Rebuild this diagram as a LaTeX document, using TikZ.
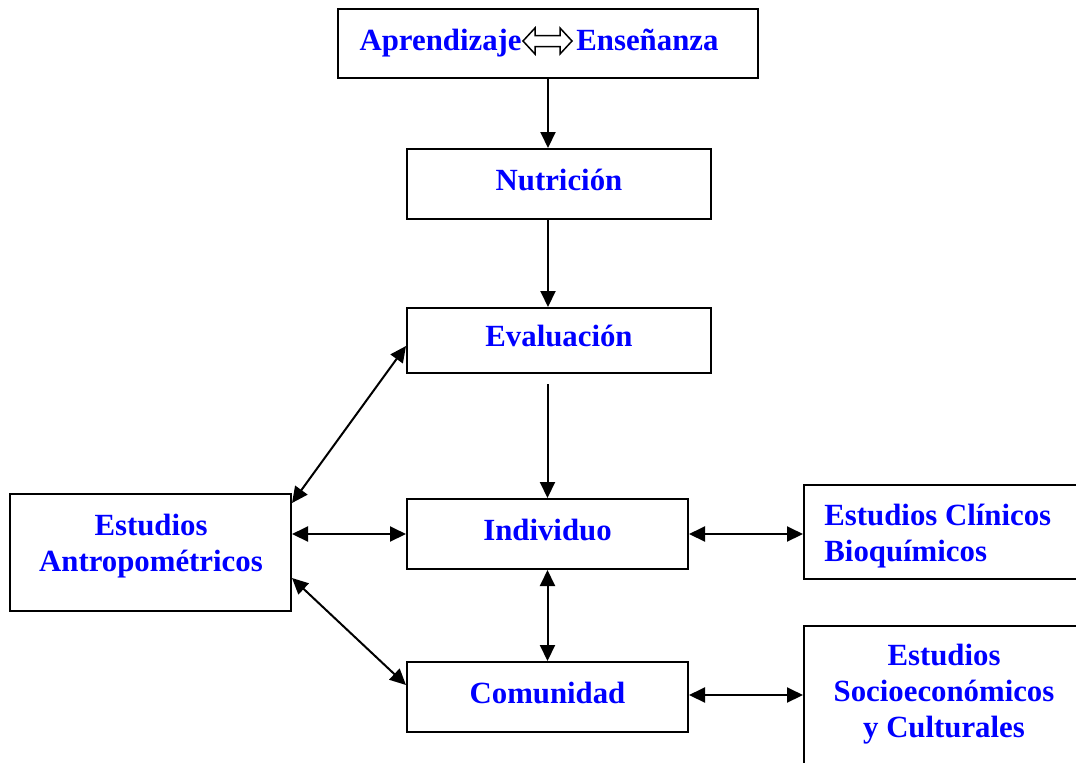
\documentclass[tikz,border=0pt]{standalone}
\usepackage{fontspec}
\setmainfont{Liberation Serif}
\usetikzlibrary{arrows.meta}
\definecolor{qqqqff}{rgb}{0,0,1}
\tikzset{
  caja/.style={draw=black,line width=1pt,rectangle,inner sep=0pt,text=qqqqff,
    font=\bfseries\fontsize{15.4}{18}\selectfont,align=center,text height=9pt,text depth=3pt},
  txt/.style={inner sep=0pt,text=qqqqff,font=\bfseries\fontsize{15.4}{18}\selectfont},
  flecha/.style={line width=1pt,-{Triangle[length=8pt,width=7.5pt]}},
  dflecha/.style={line width=1pt,{Triangle[length=8pt,width=7.5pt]}-{Triangle[length=8pt,width=7.5pt]}}
}
\begin{document}
\begin{tikzpicture}[line join=miter,x=0.5pt,y=-0.5pt]
      \useasboundingbox (0,0) rectangle (1076,762);
      \node[caja,minimum width=210pt,minimum height=34.5pt] (ense) at (548,43.5) {};
      \node[txt,anchor=base east] (apr) at (522,50) {Aprendizaje};
      \node[txt,anchor=base west] (ens) at (576,50) {Enseñanza};
      \draw[line width=0.75pt,fill=white] (523,41) -- (535,28) -- (535,35.5) -- (560,35.5) -- (560,28) -- (572,41)
        -- (560,54) -- (560,46.5) -- (535,46.5) -- (535,54) -- cycle;
      \node[caja,minimum width=152pt,minimum height=35pt] (nutri) at (559,184) {Nutrición};
      \node[caja,minimum width=152pt,minimum height=32.5pt] (eval) at (559,340.5) {Evaluación};
      \node[caja,minimum width=140.5pt,minimum height=35pt] (indiv) at (547.5,534) {Individuo};
      \node[caja,minimum width=140.5pt,minimum height=35pt] (comun) at (547.5,697) {Comunidad};
      \node[caja,minimum width=140.5pt,minimum height=58.5pt] (antrop) at (150.5,552.5) {};
      \node[txt,align=center] (antropt) at (151,546) {Estudios\\Antropométricos};
      \node[caja,minimum width=139pt,minimum height=47pt] (clin) at (943,532) {};
      \node[txt,align=left,anchor=west] (clint) at (824,536) {Estudios Clínicos\\Bioquímicos};
      \node[caja,minimum width=139pt,minimum height=82pt] (socio) at (943,708) {};
      \node[txt,align=center] (sociot) at (944,694) {Estudios\\Socioeconómicos\\y Culturales};
      \draw[flecha] (ense.south) -- (ense.south |- nutri.north);
      \draw[flecha] (ense.south |- nutri.south) -- (ense.south |- eval.north);
      \draw[flecha] ([yshift=-5pt]indiv.north |- eval.south) -- (indiv.north);
      \draw[dflecha] (indiv.south) -- (comun.north);
      \draw[dflecha] (indiv.west -| antrop.east) -- (indiv.west);
      \draw[dflecha] ([yshift=-5pt]antrop.north east) -- ([yshift=-2.75pt]eval.west);
      \draw[dflecha] ([yshift=-12.75pt]antrop.east) -- ([yshift=6pt]comun.west);
      \draw[dflecha] (indiv.east) -- (indiv.east -| clin.west);
      \draw[dflecha] ([yshift=1pt]comun.east) -- ([yshift=1pt]comun.east -| socio.west);
    \end{tikzpicture}
\end{document}
